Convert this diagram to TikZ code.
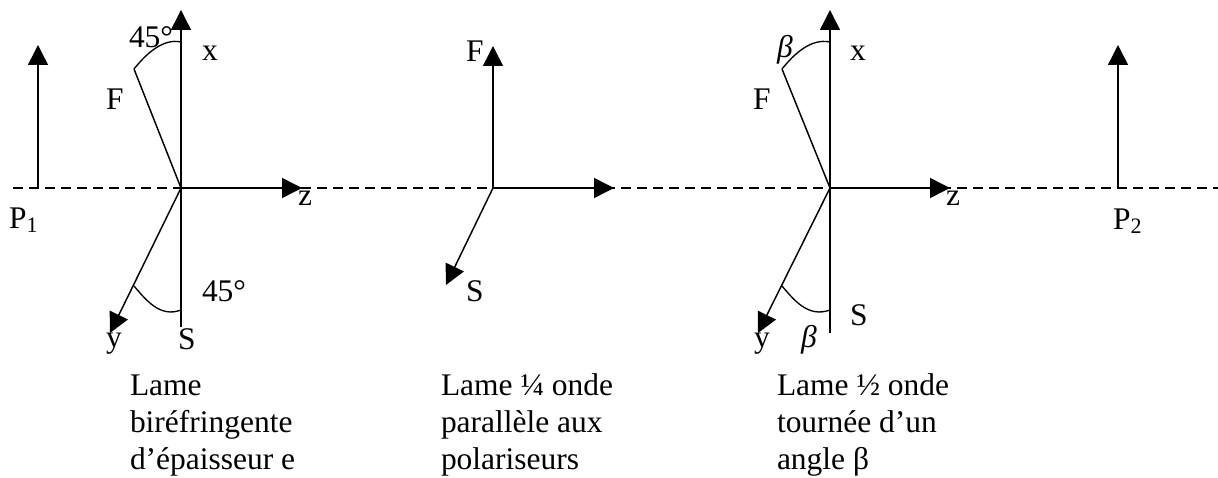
\documentclass[tikz,border=0pt]{standalone}
\usepackage{fontspec}
\setmainfont{Liberation Serif}
\usetikzlibrary{arrows.meta}
\newcommand{\firstln}{\rule{0pt}{18pt}}
\tikzset{
  x=0.75pt,y=-0.75pt,
  ln/.style={line width=1.1pt},
  arr/.style={ln,-{Triangle[length=15pt,width=15pt]}},
  arcln/.style={line width=1pt},
  dashline/.style={line width=0.9pt,dash pattern=on 7.5pt off 4.5pt},
  lab/.style={anchor=base west,inner sep=0pt,outer sep=0pt,font=\fontsize{23.6}{27.75}\selectfont},
  cap3/.style={lab,align=left,anchor=north west}
}
\begin{document}
\begin{tikzpicture}
\useasboundingbox (0,0) rectangle (1218,478);
\coordinate (L) at (13,188); \coordinate (R) at (1218,188);
\draw[dashline] (L) -- (R);
% P1
\coordinate (p1o) at (38,188); \coordinate (p1t) at (38,45);
\draw[arr] (p1o) -- (p1t);
\node[lab] (p1) at (9,228) {P\textsubscript{1}};
% Group 1
\coordinate (a) at (181,188); \coordinate (ax) at (181,10); \coordinate (as) at (181,327);
\coordinate (af) at (134,69); \coordinate (ay) at (110,333); \coordinate (az) at (302,188);
\coordinate (aa1) at (181,42); \coordinate (aa2) at (134,286); \coordinate (aa3) at (181,310);
\draw[arr] (as) -- (ax);
\draw[ln] (a) -- (af);
\draw[arr] (a) -- (ay);
\draw[arr] (a) -- (az);
\draw[arcln] (af) .. controls (146,54) and (163,38) .. (aa1);
\draw[arcln] (aa2) .. controls (146,300) and (160,318) .. (aa3);
\node[lab] (a45a) at (129,48) {45°};
\node[lab] (ax1) at (202,61) {x};
\node[lab] (aF) at (106,109) {F};
\node[lab] (az1) at (298,205) {z};
\node[lab] (a45b) at (202,301) {45°};
\node[lab] (aS) at (178,349) {S};
\node[lab] (ay1) at (106,347) {y};
\node[cap3] (ac) at (130,371) {\firstln Lame\\biréfringente\\d’épaisseur e};
% Group 2
\coordinate (b) at (493,188); \coordinate (bf) at (493,46);
\coordinate (bz) at (614,188); \coordinate (bs) at (446,285);
\draw[arr] (b) -- (bf);
\draw[arr] (b) -- (bz);
\draw[arr] (b) -- (bs);
\node[lab] (bF) at (466,62) {F};
\node[lab] (bS) at (466,301) {S};
\node[cap3] (bc) at (441,371) {\firstln Lame ¼ onde\\parallèle aux\\polariseurs};
% Group 3
\coordinate (c) at (830,188); \coordinate (cx) at (830,10); \coordinate (cs) at (830,333);
\coordinate (cf) at (782,69); \coordinate (cy) at (758,333); \coordinate (cz) at (950,188);
\coordinate (ca1) at (830,42); \coordinate (ca2) at (782,286); \coordinate (ca3) at (830,310);
\draw[arr] (cs) -- (cx);
\draw[ln] (c) -- (cf);
\draw[arr] (c) -- (cy);
\draw[arr] (c) -- (cz);
\draw[arcln] (cf) .. controls (794,54) and (811,38) .. (ca1);
\draw[arcln] (ca2) .. controls (794,300) and (808,318) .. (ca3);
\node[lab] (cb1) at (777,58) {\textit{β}};
\node[lab] (cx1) at (850,61) {x};
\node[lab] (cF) at (753,109) {F};
\node[lab] (cz1) at (946,205) {z};
\node[lab] (cS) at (850,325) {S};
\node[lab] (cy1) at (754,347) {y};
\node[lab] (cb2) at (801,347) {\textit{β}};
\node[cap3] (cc) at (777,371) {\firstln Lame ½ onde\\tournée d’un\\angle β};
% P2
\coordinate (p2o) at (1118,188); \coordinate (p2t) at (1118,45);
\draw[arr] (p2o) -- (p2t);
\node[lab] (p2) at (1113,229) {P\textsubscript{2}};
\end{tikzpicture}
\end{document}
